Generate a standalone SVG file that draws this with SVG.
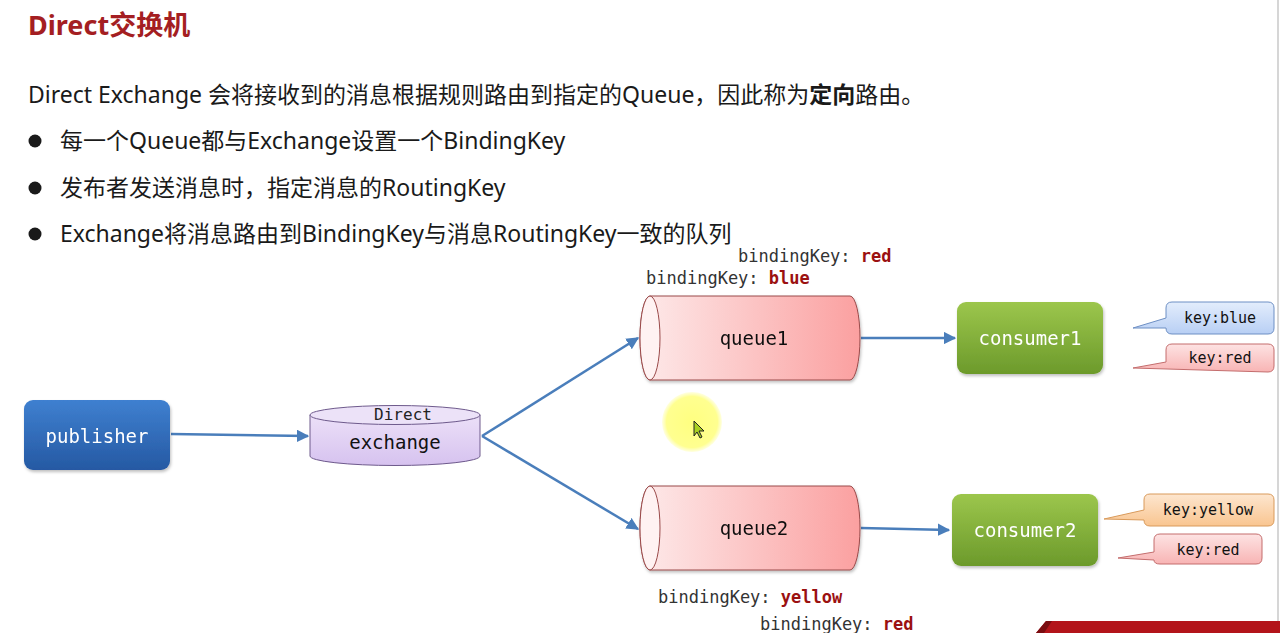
<svg xmlns="http://www.w3.org/2000/svg" width="1280" height="633" viewBox="0 0 1280 633">
<defs>
<linearGradient id="gBlue" x1="0" y1="0" x2="0" y2="1"><stop offset="0" stop-color="#3f80d0"/><stop offset="1" stop-color="#2559a3"/></linearGradient>
<linearGradient id="gGreen" x1="0" y1="0" x2="0" y2="1"><stop offset="0" stop-color="#9cc64c"/><stop offset="1" stop-color="#6c9a2b"/></linearGradient>
<linearGradient id="gPurple" x1="0" y1="0" x2="0" y2="1"><stop offset="0" stop-color="#ece0f8"/><stop offset="1" stop-color="#d6c2ef"/></linearGradient>
<linearGradient id="gQueue" x1="0" y1="0" x2="1" y2="0"><stop offset="0" stop-color="#fdeaea"/><stop offset="1" stop-color="#fba0a0"/></linearGradient>
<linearGradient id="gKBlue" x1="0" y1="0" x2="0" y2="1"><stop offset="0" stop-color="#e3edfc"/><stop offset="1" stop-color="#b8cff4"/></linearGradient>
<linearGradient id="gKRed" x1="0" y1="0" x2="0" y2="1"><stop offset="0" stop-color="#fde3e3"/><stop offset="1" stop-color="#f8b4b4"/></linearGradient>
<linearGradient id="gKYellow" x1="0" y1="0" x2="0" y2="1"><stop offset="0" stop-color="#fde6cf"/><stop offset="1" stop-color="#f9c590"/></linearGradient>
<radialGradient id="gHi"><stop offset="0" stop-color="#ffff80"/><stop offset="0.85" stop-color="#ffff90"/><stop offset="1" stop-color="#ffffa0" stop-opacity="0.3"/></radialGradient>
<marker id="arr" viewBox="0 0 10 10" refX="9" refY="5" markerWidth="5" markerHeight="5" orient="auto-start-reverse"><path d="M0,0 L10,5 L0,10 z" fill="#4a7ebb"/></marker>
<filter id="sh" x="-10%" y="-10%" width="130%" height="140%"><feDropShadow dx="1" dy="2" stdDeviation="1.5" flood-color="#000" flood-opacity="0.25"/></filter>
</defs>
<style>
.title{font-family:"Noto Sans","Noto Sans CJK SC",sans-serif;font-size:27px;font-weight:bold;fill:#a41e22}
.body{font-family:"Noto Sans","Noto Sans CJK SC",sans-serif;font-size:23px;fill:#1a1a1a}
.mono{font-family:"DejaVu Sans Mono","Liberation Mono",monospace}
.node{font-size:19px;text-anchor:middle}
.wt{fill:#ffffff}
.bk{font-size:17px;fill:#333}
.bkv{font-weight:bold;fill:#9b1111}
.key{font-size:15px;text-anchor:middle;fill:#111}
.conn{stroke:#4a7ebb;stroke-width:2.5;fill:none;marker-end:url(#arr)}
</style>
<rect width="1280" height="633" fill="#ffffff"/>
<line x1="1278" y1="0" x2="1278" y2="633" stroke="#c8c8c8" stroke-width="1.5"/>

<text class="title" x="28" y="35">Direct交换机</text>
<text class="body" x="28" y="103">Direct Exchange 会将接收到的消息根据规则路由到指定的Queue，因此称为<tspan font-weight="bold">定向</tspan>路由。</text>
<circle cx="35" cy="141" r="6.5" fill="#1a1a1a"/>
<text class="body" x="60" y="149">每一个Queue都与Exchange设置一个BindingKey</text>
<circle cx="35" cy="188" r="6.5" fill="#1a1a1a"/>
<text class="body" x="60" y="196">发布者发送消息时，指定消息的RoutingKey</text>
<circle cx="35" cy="234" r="6.5" fill="#1a1a1a"/>
<text class="body" x="60" y="242">Exchange将消息路由到BindingKey与消息RoutingKey一致的队列</text>

<g id="connectors">
<line class="conn" x1="171" y1="434" x2="308" y2="436"/>
<line class="conn" x1="482" y1="436" x2="638" y2="338"/>
<line class="conn" x1="482" y1="436" x2="638" y2="529"/>
<line class="conn" x1="861" y1="338" x2="955" y2="338"/>
<line class="conn" x1="861" y1="528" x2="949" y2="530"/>
</g>

<g id="publisher" filter="url(#sh)">
<rect x="24" y="400" width="146" height="70" rx="9" fill="url(#gBlue)"/>
<text class="mono node wt" x="97" y="443">publisher</text>
</g>

<g id="exchange">
<path d="M310,415 L310,456 A85,9.5 0 0 0 480,456 L480,415 Z" fill="url(#gPurple)" stroke="#6e5a8c" stroke-width="1"/>
<ellipse cx="395" cy="415" rx="85" ry="9.5" fill="#ece2f8" stroke="#6e5a8c" stroke-width="1"/>
<text class="mono" x="403" y="420" font-size="16" text-anchor="middle" fill="#222">Direct</text>
<text class="mono node" x="395" y="449" fill="#111">exchange</text>
</g>

<g id="queue1" filter="url(#sh)">
<path d="M650,296 L850,296 A10,42 0 0 1 850,380 L650,380 A10,42 0 0 1 650,296 Z" fill="url(#gQueue)" stroke="#9a4a4a" stroke-width="1"/>
<ellipse cx="650" cy="338" rx="10" ry="42" fill="#fff2f2" stroke="#9a4a4a" stroke-width="1"/>
<text class="mono node" x="754" y="345" fill="#111">queue1</text>
</g>

<g id="queue2" filter="url(#sh)">
<path d="M650,486 L850,486 A10,42 0 0 1 850,570 L650,570 A10,42 0 0 1 650,486 Z" fill="url(#gQueue)" stroke="#9a4a4a" stroke-width="1"/>
<ellipse cx="650" cy="528" rx="10" ry="42" fill="#fff2f2" stroke="#9a4a4a" stroke-width="1"/>
<text class="mono node" x="754" y="535" fill="#111">queue2</text>
</g>

<g id="consumer1" filter="url(#sh)">
<rect x="957" y="302" width="146" height="72" rx="9" fill="url(#gGreen)"/>
<text class="mono node wt" x="1030" y="345">consumer1</text>
</g>

<g id="consumer2" filter="url(#sh)">
<rect x="952" y="494" width="146" height="72" rx="9" fill="url(#gGreen)"/>
<text class="mono node wt" x="1025" y="537">consumer2</text>
</g>

<g id="labels">
<text class="mono bk" x="738" y="262">bindingKey: <tspan class="bkv">red</tspan></text>
<text class="mono bk" x="646" y="284">bindingKey: <tspan class="bkv">blue</tspan></text>
<text class="mono bk" x="658" y="603">bindingKey: <tspan class="bkv">yellow</tspan></text>
<text class="mono bk" x="760" y="630">bindingKey: <tspan class="bkv">red</tspan></text>
</g>

<g id="key-blue">
<path d="M1172,302 L1268,302 Q1274,302 1274,308 L1274,328 Q1274,334 1268,334 L1172,334 Q1166,334 1166,328 L1133,328 L1166,318 L1166,308 Q1166,302 1172,302 Z" fill="url(#gKBlue)" stroke="#6d8fc4" stroke-width="1"/>
<text class="mono key" x="1220" y="323">key:blue</text>
</g>
<g id="key-red1">
<path d="M1172,344 L1268,344 Q1274,344 1274,350 L1274,366 Q1274,372 1268,372 L1133,368 L1166,362 L1166,350 Q1166,344 1172,344 Z" fill="url(#gKRed)" stroke="#c46d6d" stroke-width="1"/>
<text class="mono key" x="1220" y="363">key:red</text>
</g>
<g id="key-yellow">
<path d="M1150,494 L1268,494 Q1274,494 1274,500 L1274,520 Q1274,526 1268,526 L1150,526 Q1144,526 1144,520 L1104,519 L1144,510 L1144,500 Q1144,494 1150,494 Z" fill="url(#gKYellow)" stroke="#d99a5a" stroke-width="1"/>
<text class="mono key" x="1208" y="515">key:yellow</text>
</g>
<g id="key-red2">
<path d="M1160,534 L1256,534 Q1262,534 1262,540 L1262,558 Q1262,564 1256,564 L1160,564 Q1154,564 1154,560 L1118,558 L1154,552 L1154,540 Q1154,534 1160,534 Z" fill="url(#gKRed)" stroke="#c46d6d" stroke-width="1"/>
<text class="mono key" x="1208" y="555">key:red</text>
</g>

<g id="cursor">
<circle cx="692" cy="422" r="30" fill="url(#gHi)"/>
<path d="M694,421 L694,436 L697,432 L700,438 L702,437 L699,431 L704,431 Z" fill="#a8d020" stroke="#222" stroke-width="1"/>
</g>

<polygon points="1036,633 1046,621 1280,621 1280,633" fill="#b3141a"/>
<polygon points="1036,633 1046,621 1052,621 1044,633" fill="#7a0c10"/>
</svg>
